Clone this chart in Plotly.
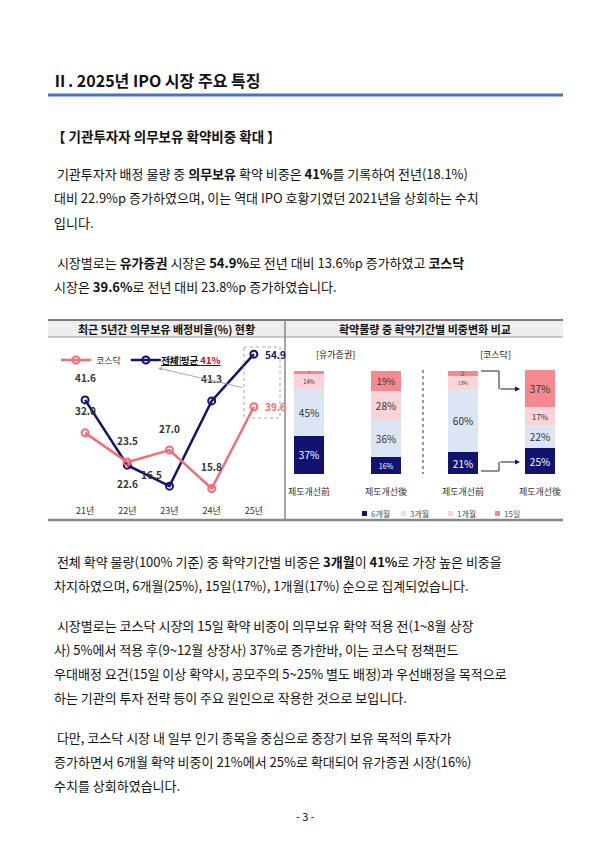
import plotly.graph_objects as go

W, H = 595, 841
def px(x): return x / W
def py(y): return 1 - y / H

years = ["21년", "22년", "23년", "24년", "25년"]
kospi_ratio = [41.6, 22.6, 16.5, 41.3, 54.9]
kosdaq_ratio = [32.0, 23.5, 27.0, 15.8, 39.6]

bar_cats = ["유가 전", "유가 후", "코스닥 전", "코스닥 후"]
bar_labels = ["제도개선前", "제도개선後", "제도개선前", "제도개선後"]
periods = ["6개월", "3개월", "1개월", "15일"]
share_6m = [37, 16, 21, 25]
share_3m = [45, 36, 60, 22]
share_1m = [14, 28, 13, 17]
share_15d = [3, 19, 5, 37]

NAVY = "#12136e"
PINK = "#f26d75"
FONT = "Noto Sans CJK KR"

fig = go.Figure()
fig.add_trace(go.Scatter(x=years, y=kospi_ratio, name="유가", mode="lines+markers",
    line=dict(color=NAVY, width=2.5), marker=dict(symbol="circle-open", size=7, color=NAVY, line=dict(width=2)),
    xaxis="x", yaxis="y"))
fig.add_trace(go.Scatter(x=years, y=kosdaq_ratio, name="코스닥", mode="lines+markers",
    line=dict(color=PINK, width=2.5), marker=dict(symbol="circle-open", size=7, color=PINK, line=dict(width=2)),
    xaxis="x", yaxis="y"))

cols = [NAVY, "#dbe5f3", "#fad4d8", "#f48a90"]
txtc = ["white", "#333", "#333", "#333"]
for name, vals, c, tc in zip(periods, [share_6m, share_3m, share_1m, share_15d], cols, txtc):
    fig.add_trace(go.Bar(x=bar_cats, y=vals, name=name, marker=dict(color=c, line=dict(width=0)),
        width=0.4, text=[f"{v}%" for v in vals], textposition="inside", insidetextanchor="middle",
        textfont=dict(color=tc, size=10, family=FONT), xaxis="x2", yaxis="y2", showlegend=False))

# label offsets (pixels, +y = up)
k_sh = [(0, 22), (0, -18), (-18, 12), (0, 22), (22, 0)]
q_sh = [(0, 22), (0, 22), (0, 22), (0, 22), (22, 0)]
ann = []
for i in range(5):
    ann.append(dict(x=years[i], y=kospi_ratio[i], xref="x", yref="y", text=f"<b>{kospi_ratio[i]}</b>",
        showarrow=False, xshift=k_sh[i][0], yshift=k_sh[i][1], font=dict(size=10, color=NAVY if i == 4 else "#333")))
    ann.append(dict(x=years[i], y=kosdaq_ratio[i], xref="x", yref="y", text=f"<b>{kosdaq_ratio[i]:.1f}</b>",
        showarrow=False, xshift=q_sh[i][0], yshift=q_sh[i][1], font=dict(size=10, color=PINK if i == 4 else "#333")))

def T(x, y, t, size=13.5, bold=False, anchor="left", color="#111"):
    ann.append(dict(x=px(x), y=py(y), xref="paper", yref="paper", text=f"<b>{t}</b>" if bold else t,
        showarrow=False, xanchor=anchor, yanchor="middle", font=dict(size=size, color=color, family=FONT)))

T(42, 72, "Ⅱ. 2025년 IPO 시장 주요 특징", 16, True)
T(42, 128, "【 기관투자자 의무보유 확약비중 확대 】", 13.5, True)
body = [
 (166, " 기관투자자 배정 물량 중 <b>의무보유</b> 확약 비중은 <b>41%</b>를 기록하여 전년(18.1%)"),
 (190, "대비 22.9%p 증가하였으며, 이는 역대 IPO 호황기였던 2021년을 상회하는 수치"),
 (214, "입니다."),
 (254, " 시장별로는 <b>유가증권</b> 시장은 <b>54.9%</b>로 전년 대비 13.6%p 증가하였고 <b>코스닥</b>"),
 (278, "시장은 <b>39.6%</b>로 전년 대비 23.8%p 증가하였습니다."),
 (553, " 전체 확약 물량(100% 기준) 중 확약기간별 비중은 <b>3개월</b>이 <b>41%</b>로 가장 높은 비중을"),
 (577, "차지하였으며, 6개월(25%), 15일(17%), 1개월(17%) 순으로 집계되었습니다."),
 (617, " 시장별로는 코스닥 시장의 15일 확약 비중이 의무보유 확약 적용 전(1~8월 상장"),
 (641, "사) 5%에서 적용 후(9~12월 상장사) 37%로 증가한바, 이는 코스닥 정책펀드"),
 (665, "우대배정 요건(15일 이상 확약시, 공모주의 5~25% 별도 배정)과 우선배정을 목적으로"),
 (689, "하는 기관의 투자 전략 등이 주요 원인으로 작용한 것으로 보입니다."),
 (729, " 다만, 코스닥 시장 내 일부 인기 종목을 중심으로 중장기 보유 목적의 투자가"),
 (753, "증가하면서 6개월 확약 비중이 21%에서 25%로 확대되어 유가증권 시장(16%)"),
 (777, "수치를 상회하였습니다."),
]
for y, t in body:
    T(44, y, t, 13)
T(297, 808, "- 3 -", 11, anchor="center")

T(158, 321, "최근 5년간 의무보유 배정비율(%) 현황", 11, True, "center")
T(417, 321, "확약물량 중 확약기간별 비중변화 비교", 11, True, "center")
T(183, 352, "<u>전체 평균 <span style='color:#e0001a'>41%</span></u>", 9.5, True, "center")
T(327, 346, "[유가증권]", 9, False, "center")
T(487, 346, "[코스닥]", 9, False, "center")
for i, lab in enumerate(bar_labels):
    ann.append(dict(x=bar_cats[i], y=0, xref="x2", yref="y2", text=lab, showarrow=False, yshift=-17,
        font=dict(size=9, color="#333", family=FONT)))
lx = [354, 393, 440, 487]
for x, lab in zip(lx, periods):
    T(x + 7, 505, lab, 8, False, "left", "#555")
ann.append(dict(x=px(150), y=py(360), ax=86, ay=20, xref="paper", yref="paper", axref="pixel", ayref="pixel",
    showarrow=True, arrowhead=2, arrowsize=0.8, arrowwidth=1, arrowcolor="#aaa", text=""))
for yy in [381, 454]:
    ann.append(dict(x=px(512), y=py(yy), ax=-21, ay=0, xref="paper", yref="paper", axref="pixel", ayref="pixel",
        showarrow=True, arrowhead=2, arrowsize=1, arrowwidth=1, arrowcolor=NAVY, text=""))

shapes = [
 dict(type="line", x0=px(40), x1=px(555), y0=py(87), y1=py(87), xref="paper", yref="paper", line=dict(color="#4472c4", width=3)),
 dict(type="rect", x0=px(40), x1=px(555), y0=py(312), y1=py(329), xref="paper", yref="paper", fillcolor="#eeeeee", line=dict(width=0), layer="below"),
 dict(type="line", x0=px(40), x1=px(555), y0=py(312), y1=py(312), xref="paper", yref="paper", line=dict(color="#555", width=1.5)),
 dict(type="line", x0=px(40), x1=px(555), y0=py(329), y1=py(329), xref="paper", yref="paper", line=dict(color="#999", width=1)),
 dict(type="line", x0=px(40), x1=px(555), y0=py(512), y1=py(512), xref="paper", yref="paper", line=dict(color="#888", width=2.5)),
 dict(type="line", x0=px(277), x1=px(277), y0=py(312), y1=py(512), xref="paper", yref="paper", line=dict(color="#888", width=1.5)),
 dict(type="rect", x0=px(236), x1=px(272), y0=py(339), y1=py(410), xref="paper", yref="paper", line=dict(color="#aaa", width=1, dash="dot")),
 dict(type="line", x0=px(415), x1=px(415), y0=py(362), y1=py(466), xref="paper", yref="paper", line=dict(color="#333", width=1, dash="dot")),
 dict(type="path", path=f"M {px(473)},{py(363)} L {px(491)},{py(363)} L {px(491)},{py(381)}", xref="paper", yref="paper", line=dict(color="#222", width=1)),
 dict(type="path", path=f"M {px(473)},{py(463)} L {px(491)},{py(463)} L {px(491)},{py(454)}", xref="paper", yref="paper", line=dict(color="#222", width=1)),
]
for x, c in zip(lx, cols):
    shapes.append(dict(type="rect", x0=px(x), x1=px(x + 5), y0=py(503), y1=py(508), xref="paper", yref="paper", fillcolor=c, line=dict(width=0)))

fig.update_layout(
    width=W, height=H, margin=dict(l=0, r=0, t=0, b=0), paper_bgcolor="white", plot_bgcolor="rgba(0,0,0,0)",
    font=dict(family=FONT), barmode="stack", annotations=ann, shapes=shapes,
    legend=dict(orientation="h", x=px(48), y=py(352), yanchor="middle", xanchor="left", font=dict(size=9, color="#333"),
                bgcolor="rgba(0,0,0,0)", itemwidth=30, tracegroupgap=0),
    xaxis=dict(domain=[px(56), px(267)], range=[-0.5, 4.5], showgrid=False, zeroline=False, showline=False,
               tickfont=dict(size=9, color="#333"), ticks="", anchor="y", fixedrange=True),
    yaxis=dict(domain=[py(496), py(340)], range=[11.3, 56.7], visible=False),
    xaxis2=dict(domain=[px(262.5), px(570.5)], range=[-0.5, 3.5], visible=False, anchor="y2"),
    yaxis2=dict(domain=[py(466), py(362)], range=[0, 100], visible=False, anchor="x2"),
)
fig.write_html("out.html")
